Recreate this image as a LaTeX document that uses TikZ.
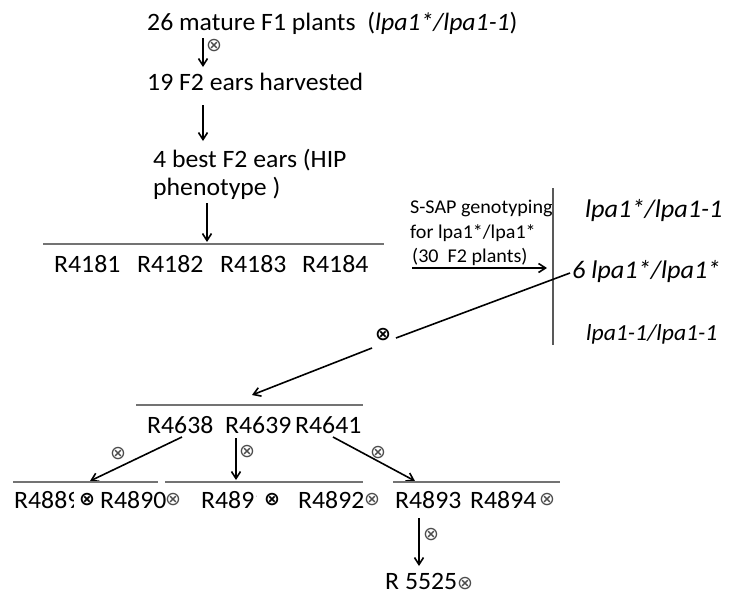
\documentclass[tikz,border=0pt]{standalone}
\usepackage{fontspec}
\setmainfont{Carlito}[FakeStretch=1.03]
\newfontfamily\symfont{DejaVu Sans}
\usetikzlibrary{arrows.meta}
\begin{document}
\begin{tikzpicture}[x=1pt,y=-1pt,
  txt/.style={anchor=base west, inner sep=0pt, font=\fontsize{25}{29}\selectfont},
  itx/.style={anchor=base west, inner sep=0pt, font=\fontsize{25.5}{30}\selectfont\itshape},
  smalltxt/.style={anchor=base west, inner sep=0pt, font=\fontsize{19.5}{24}\selectfont},
  arr/.style={-{Straight Barb[length=7pt,width=9pt]}, line width=1.6pt},
  rulel/.style={draw=black!55, line width=1.3pt},
  selfx/.style={inner sep=0pt, font=\symfont\fontsize{19}{19}\selectfont, text=black!70},
  selfb/.style={inner sep=0pt, font=\symfont\bfseries\fontsize{19}{19}\selectfont},
]
\useasboundingbox (0,0) rectangle (729,595);

% top chain
\node[txt] (f1) at (147,30) {26 mature F1 plants\ \ (\textit{lpa1*/lpa1-1})};
\coordinate (a1s) at (203,38);
\coordinate (a1e) at (203,67);
\draw[arr] (a1s) -- (a1e);
\node[selfx] (x0) at (214,46) {⊗};

\node[txt] (f2) at (147,90) {19 F2 ears harvested};
\coordinate (a2s) at (203,105);
\coordinate (a2e) at (203,141);
\draw[arr] (a2s) -- (a2e);

\node[txt] (best1) at (153,167) {4 best F2 ears (HIP};
\node[txt] (best2) at (153,195) {phenotype )};
\coordinate (a3s) at (207,203);
\coordinate (a3e) at (207,242);
\draw[arr] (a3s) -- (a3e);

% first family row
\coordinate (r1l) at (43,244);
\coordinate (r1r) at (384,244);
\draw[rulel] (r1l) -- (r1r);
\node[txt] (r4181) at (54,272) {R4181};
\node[txt] (r4182) at (137,272) {R4182};
\node[txt] (r4183) at (220,272) {R4183};
\node[txt] (r4184) at (302,272) {R4184};

% genotyping
\node[smalltxt] (s1) at (410,213) {S-SAP genotyping};
\node[smalltxt] (s2) at (410,238) {for lpa1*/lpa1*};
\node[smalltxt] (s3) at (412,262) {(30\ \ F2 plants)};
\coordinate (a4s) at (412,268);
\coordinate (a4e) at (547,268);
\draw[arr] (a4s) -- (a4e);
\coordinate (vt) at (553,188);
\coordinate (vb) at (553,345);
\draw[draw=black!65, line width=1.3pt] (vt) -- (vb);

\node[itx] (g1) at (585,217) {lpa1*/lpa1-1};
\node[itx] (g2) at (572,278) {6 lpa1*/lpa1*};
\node[itx, font=\fontsize{23}{28}\selectfont\itshape] (g3) at (586,340) {lpa1-1/lpa1-1};

\node[selfb] (xm) at (383,335) {⊗};
\coordinate (l6s) at (570,273);
\coordinate (l6e) at (396,338);
\draw[line width=1.6pt] (l6s) -- (l6e);
\coordinate (a5s) at (372,348);
\coordinate (a5e) at (252,395);
\draw[arr] (a5s) -- (a5e);

% second family row
\coordinate (r2l) at (136,405);
\coordinate (r2r) at (363,405);
\draw[rulel] (r2l) -- (r2r);
\node[txt] (r4638) at (147,433) {R4638};
\node[txt] (r4639) at (225,433) {R4639};
\node[txt] (r4641) at (295,433) {R4641};

\coordinate (b1s) at (182,437);
\coordinate (b1e) at (90,481);
\draw[arr] (b1s) -- (b1e);
\node[selfx] (xb1) at (118,454) {⊗};
\coordinate (b2s) at (236,438);
\coordinate (b2e) at (236,480);
\draw[arr] (b2s) -- (b2e);
\node[selfx] (xb2) at (247,452) {⊗};
\coordinate (b3s) at (333,437);
\coordinate (b3e) at (415,481);
\draw[arr] (b3s) -- (b3e);
\node[selfx] (xb3) at (378,453) {⊗};

% third family row
\coordinate (q1l) at (13,482);
\coordinate (q1r) at (158,482);
\draw[rulel] (q1l) -- (q1r);
\coordinate (q2l) at (165,482);
\coordinate (q2r) at (363,482);
\draw[rulel] (q2l) -- (q2r);
\coordinate (q3l) at (393,482);
\coordinate (q3r) at (560,482);
\draw[rulel] (q3l) -- (q3r);

\begin{scope}
\clip (0,485) rectangle (73,520);
\node[txt] (r4889) at (14,508) {R4889};
\end{scope}
\node[selfb] (xc1) at (87,500) {⊗};
\node[txt] (r4890) at (100,508) {R4890};
\node[selfx] (xc2) at (173,500) {⊗};
\begin{scope}
\clip (190,485) rectangle (256,520);
\node[txt] (r4891) at (201,508) {R4891};
\end{scope}
\node[selfb] (xc3) at (272,500) {⊗};
\node[txt] (r4892) at (298,508) {R4892};
\node[selfx] (xc4) at (372,500) {⊗};
\node[txt] (r4893) at (395,508) {R4893};
\node[txt] (r4894) at (470,508) {R4894};
\node[selfx] (xc5) at (547,500) {⊗};

\coordinate (d1s) at (419,518);
\coordinate (d1e) at (419,566);
\draw[arr] (d1s) -- (d1e);
\node[selfx] (xd) at (431,535) {⊗};
\node[txt] (r5525) at (385,589) {R 5525{\symfont\fontsize{19}{19}\selectfont\color{black!70}⊗}};
\end{tikzpicture}
\end{document}
